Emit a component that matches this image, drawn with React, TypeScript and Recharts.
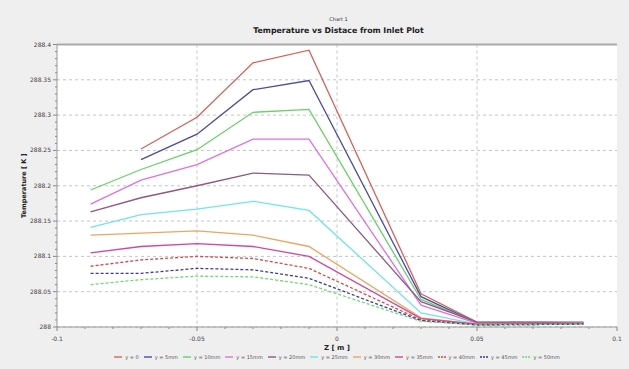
import { LineChart, Line, XAxis, YAxis, CartesianGrid, Legend, ReferenceLine } from "recharts";

const zValues = [-0.088, -0.07, -0.05, -0.03, -0.01, 0.03, 0.05, 0.088];

const y0 = [null, 288.252, 288.297, 288.374, 288.392, 288.047, 288.007, 288.006];
const y5 = [null, 288.237, 288.273, 288.336, 288.349, 288.043, 288.006, 288.006];
const y10 = [288.194, 288.223, 288.251, 288.304, 288.308, 288.039, 288.006, 288.006];
const y15 = [288.174, 288.208, 288.23, 288.266, 288.266, 288.031, 288.005, 288.005];
const y20 = [288.163, 288.183, 288.2, 288.218, 288.215, 288.036, 288.007, 288.007];
const y25 = [288.141, 288.159, 288.167, 288.178, 288.165, 288.02, 288.004, 288.005];
const y30 = [288.13, 288.133, 288.136, 288.13, 288.114, 288.013, 288.004, 288.005];
const y35 = [288.105, 288.114, 288.118, 288.114, 288.1, 288.012, 288.004, 288.005];
const y40 = [288.086, 288.095, 288.1, 288.097, 288.083, 288.01, 288.003, 288.004];
const y45 = [288.076, 288.076, 288.083, 288.081, 288.069, 288.009, 288.003, 288.004];
const y50 = [288.06, 288.067, 288.072, 288.071, 288.06, 288.008, 288.003, 288.004];

const xMajor = [-0.1, -0.05, 0, 0.05, 0.1];
const yMajor = [288, 288.05, 288.1, 288.15, 288.2, 288.25, 288.3, 288.35, 288.4];
const xMinor = Array.from({ length: 21 }, (_, i) => +(-0.1 + i * 0.01).toFixed(2));
const yMinor = Array.from({ length: 41 }, (_, i) => +(288 + i * 0.01).toFixed(2));

const series = [
  { key: "y0", name: "y = 0", values: y0, color: "#d9605a" },
  { key: "y5", name: "y = 5mm", values: y5, color: "#4a4aaa" },
  { key: "y10", name: "y = 10mm", values: y10, color: "#66d266" },
  { key: "y15", name: "y = 15mm", values: y15, color: "#e070e0" },
  { key: "y20", name: "y = 20mm", values: y20, color: "#8c5a82" },
  { key: "y25", name: "y = 25mm", values: y25, color: "#6ee6e6" },
  { key: "y30", name: "y = 30mm", values: y30, color: "#e8a860" },
  { key: "y35", name: "y = 35mm", values: y35, color: "#d0489a" },
  { key: "y40", name: "y = 40mm", values: y40, color: "#d84a4a", dash: "3 2" },
  { key: "y45", name: "y = 45mm", values: y45, color: "#3a3aa2", dash: "3 2" },
  { key: "y50", name: "y = 50mm", values: y50, color: "#70d870", dash: "3 2" },
];

const data = zValues.map((z, i) => {
  const row: Record<string, number | null> = { z };
  series.forEach((s) => (row[s.key] = s.values[i]));
  return row;
});

const font = "DejaVu Sans, Verdana, sans-serif";
const isMajor = (list: number[], v: number) => list.some((m) => Math.abs(m - v) < 1e-6);

const YTick = ({ x, y, payload }: any) => {
  const major = isMajor(yMajor, payload.value);
  return (
    <g>
      <line x1={x} x2={x - (major ? 4 : 2)} y1={y} y2={y} stroke="#888" />
      {major && (
        <text x={x - 6} y={y} dy={2} textAnchor="end" fontSize={6} fill="#444" fontFamily={font}>
          {String(payload.value)}
        </text>
      )}
    </g>
  );
};

const XTick = ({ x, y, payload }: any) => {
  const major = isMajor(xMajor, payload.value);
  return (
    <g>
      <line x1={x} x2={x} y1={y} y2={y + (major ? 4 : 2)} stroke="#888" />
      {major && (
        <text x={x} y={y + 14} textAnchor="middle" fontSize={6} fill="#444" fontFamily={font}>
          {String(payload.value)}
        </text>
      )}
    </g>
  );
};

// legend drawn as one row, centred under the plot
const LegendContent = () => (
  <div style={{ display: "flex", justifyContent: "center", gap: 5, fontSize: 5, color: "#555", lineHeight: "12px" }}>
    {series.map((s) => (
      <span key={s.key} style={{ display: "inline-flex", alignItems: "center", gap: 3 }}>
        <svg width={8} height={4}>
          <line x1={0} x2={8} y1={2} y2={2} stroke={s.color} strokeWidth={1.4} strokeDasharray={s.dash ? "2 1" : undefined} />
        </svg>
        {s.name}
      </span>
    ))}
  </div>
);

export default function App() {
  return (
    <div style={{ position: "fixed", left: 0, top: 0, width: 629, height: 369, background: "#efefef", fontFamily: font }}>
      <div style={{ position: "absolute", top: 16, width: 629, left: 24, textAlign: "center", fontSize: 5, color: "#333" }}>
        Chart 1
      </div>
      <div style={{ position: "absolute", top: 26, width: 629, left: 24, textAlign: "center", fontSize: 7.8, fontWeight: "bold", color: "#222" }}>
        Temperature vs Distace from Inlet Plot
      </div>
      <LineChart width={629} height={369} data={data} margin={{ top: 44.5, right: 12, left: 0, bottom: 6 }}>
        <CartesianGrid
          fill="#ffffff"
          stroke="#c4c4c4"
          strokeDasharray="3 3"
          horizontalValues={yMajor}
          verticalValues={[-0.05, 0, 0.05]}
        />
        <XAxis
          dataKey="z"
          type="number"
          domain={[-0.1, 0.1]}
          ticks={xMinor}
          interval={0}
          tick={<XTick />}
          tickLine={false}
          tickSize={0}
          tickMargin={0}
          axisLine={{ stroke: "#999" }}
          height={24}
          label={{ value: "Z [ m ]", position: "insideBottom", offset: 1, fontSize: 7, fontWeight: "bold", fill: "#222", fontFamily: font }}
        />
        <YAxis
          type="number"
          domain={[288, 288.4]}
          ticks={yMinor}
          interval={0}
          tick={<YTick />}
          tickLine={false}
          tickSize={0}
          tickMargin={0}
          axisLine={{ stroke: "#999" }}
          width={57}
          label={{ value: "Temperature [ K ]", angle: -90, position: "insideLeft", offset: 24, fontSize: 6.5, fontWeight: "bold", fill: "#222", fontFamily: font, style: { textAnchor: "middle" } }}
        />
        <ReferenceLine y={288.4} stroke="#aaa" strokeWidth={2} />
        <Legend
          verticalAlign="bottom"
          height={12}
          content={<LegendContent />}
          wrapperStyle={{ left: 57, width: 560 }}
        />
        {series.map((s) => (
          <Line
            key={s.key}
            dataKey={s.key}
            name={s.name}
            stroke={s.color}
            strokeWidth={1.3}
            strokeDasharray={s.dash}
            dot={false}
            isAnimationActive={false}
          />
        ))}
      </LineChart>
    </div>
  );
}
